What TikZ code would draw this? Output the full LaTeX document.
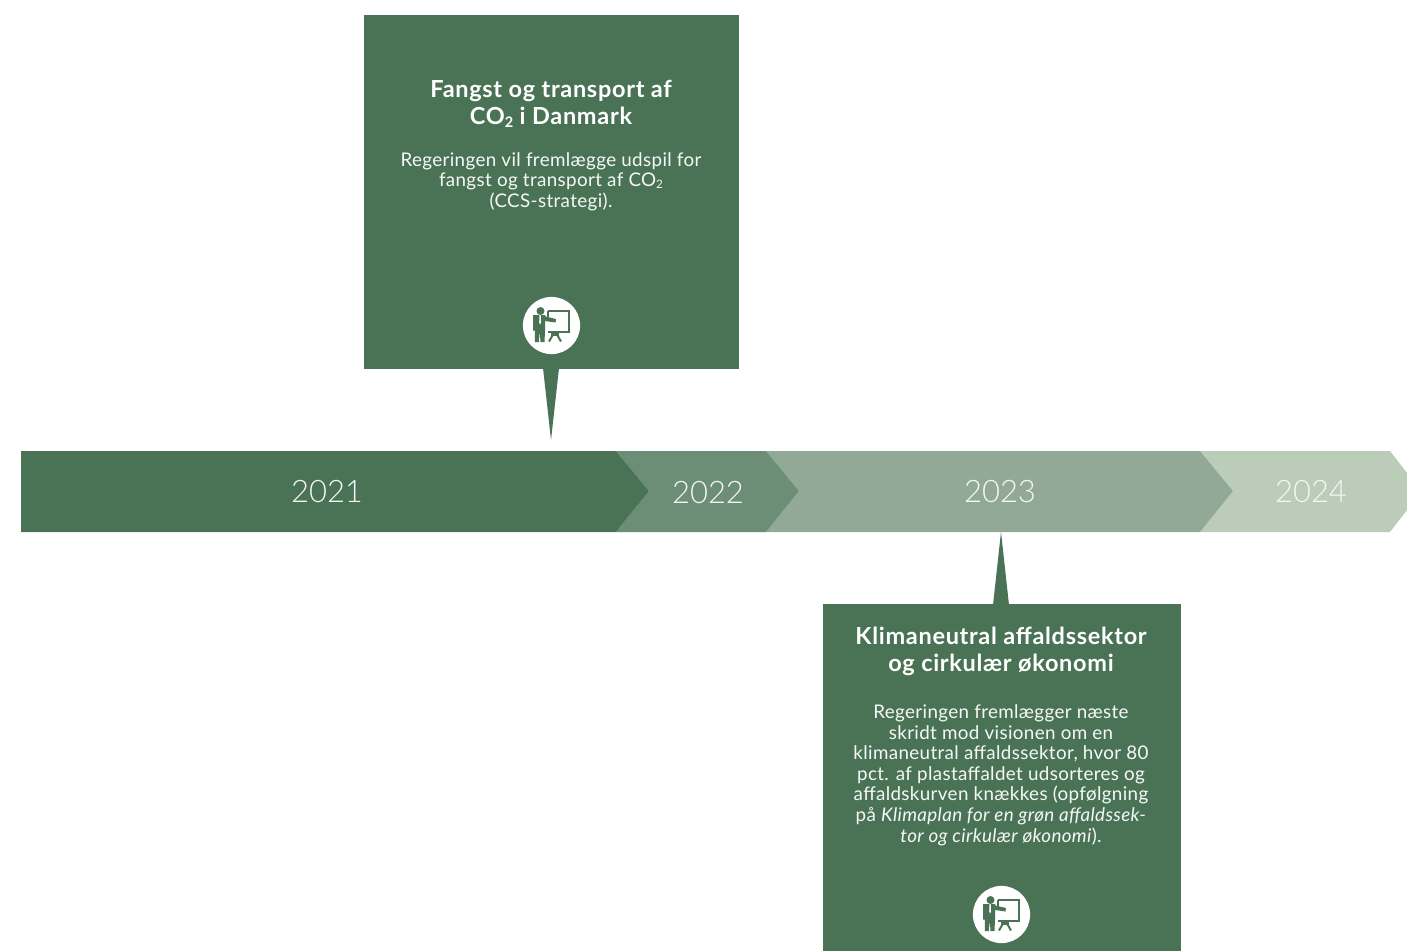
\documentclass[tikz,border=0pt]{standalone}
\usepackage{fontspec}
\setmainfont{Lato}[LetterSpace=1.9]
\newfontfamily\headfont{Lato}[LetterSpace=3.0]
\newfontfamily\yearfont{Lato Light}
\newcommand{\subtwo}{\raisebox{-0.1em}{\scalebox{0.62}{2}}}
\definecolor{gA}{HTML}{4A7356}
\definecolor{gB}{HTML}{6C8E76}
\definecolor{gC}{HTML}{92A998}
\definecolor{gD}{HTML}{BBCCB9}
\tikzset{
  x=1pt,y=-1pt,
  panel/.style={fill=gA,draw=none},
  yearlabel/.style={font=\yearfont\fontsize{31}{36}\selectfont,text=white!85!gD,inner sep=0pt},
  headtext/.style={font=\headfont\fontsize{23.5}{27}\selectfont\bfseries,text=white,align=center,inner sep=0pt},
  bodytext/.style={font=\fontsize{18.8}{20.6}\selectfont,text=white!95!gA,align=center,inner sep=0pt},
  teachicon/.pic={
    \fill[white] (0,0) circle[radius=28.6];
    \fill[gA] (-11,-14.5) circle[radius=4];
    \fill[gA] (-18.5,-10.5) -- (-6.5,-10.5) -- (-6,-9) -- (4.5,-6.5) -- (4,-3) -- (-6.5,-4.5) -- (-6.5,5) -- (-7,16.5) -- (-11,16.5) -- (-11.7,6) -- (-12.7,16.5) -- (-16.7,16.5) -- (-16.7,5) -- (-18.5,5) -- cycle;
    \fill[white] (-12,-10.5) -- (-10.8,-10.5) -- (-10.5,-3) -- (-11.4,-1) -- (-12.3,-3) -- cycle;
    \draw[gA,line width=2pt] (-3.5,-14.5) -- (17.5,-14.5) -- (17.5,6.5) -- (-3.5,6.5);
    \draw[gA,line width=2pt] (-3.5,-14.5) -- (-3.5,-8);
    \fill[gA] (-0.5,7) rectangle (7.5,10.5);
    \draw[gA,line width=2pt] (1.5,9) -- (-2.5,16) (5.5,9) -- (9.5,16);
  }
}
\begin{document}
\begin{tikzpicture}
\useasboundingbox (0,0) rectangle (1407,951);
\fill[white] (0,0) rectangle (1407,951);
% chevrons
\fill[gD] (1200,451) -- (1390,451) -- (1407,473) -- (1407,510) -- (1390,532) -- (1200,532) -- (1233,491) -- cycle;
\fill[gC] (766,451) -- (1200,451) -- (1233,491) -- (1200,532) -- (766,532) -- (799,491) -- cycle;
\fill[gB] (616,451) -- (766,451) -- (799,491) -- (766,532) -- (616,532) -- (649,491) -- cycle;
\fill[gA] (21,451) -- (616,451) -- (649,491) -- (616,532) -- (21,532) -- cycle;
\node[yearlabel] (y21) at (327,491.5) {2021};
\node[yearlabel] (y22) at (708,492.5) {2022};
\node[yearlabel] (y23) at (1000,491.5) {2023};
\node[yearlabel] (y24) at (1311,491.5) {2024};
% panels
\fill[panel] (364,15) rectangle (739,369);
\fill[panel] (543,368) -- (559,368) -- (551,440) -- cycle;
\fill[panel] (823,604) rectangle (1181,951);
\fill[panel] (993,605) -- (1009,605) -- (1001,532) -- cycle;
\node[headtext] (t1) at (551,104) {Fangst og transport af\\CO\subtwo{} i Danmark};
\node[bodytext] (b1) at (551,181.5) {Regeringen vil fremlægge udspil for\\fangst og transport af CO\subtwo\\(CCS-strategi).};
\node[headtext] (t2) at (1001,651) {Klimaneutral affaldssektor\\og cirkulær økonomi};
\node[bodytext] (b2) at (1001,775) {Regeringen fremlægger næste\\skridt mod visionen om en\\klimaneutral affaldssektor, hvor 80\\pct. af plastaffaldet udsorteres og\\affaldskurven knækkes (opfølgning\\på \textit{Klimaplan for en grøn affaldssek-}\\\textit{tor og cirkulær økonomi}).};
\pic at (551.5,325.5) {teachicon};
\pic at (1001.5,914.5) {teachicon};
\end{tikzpicture}
\end{document}
